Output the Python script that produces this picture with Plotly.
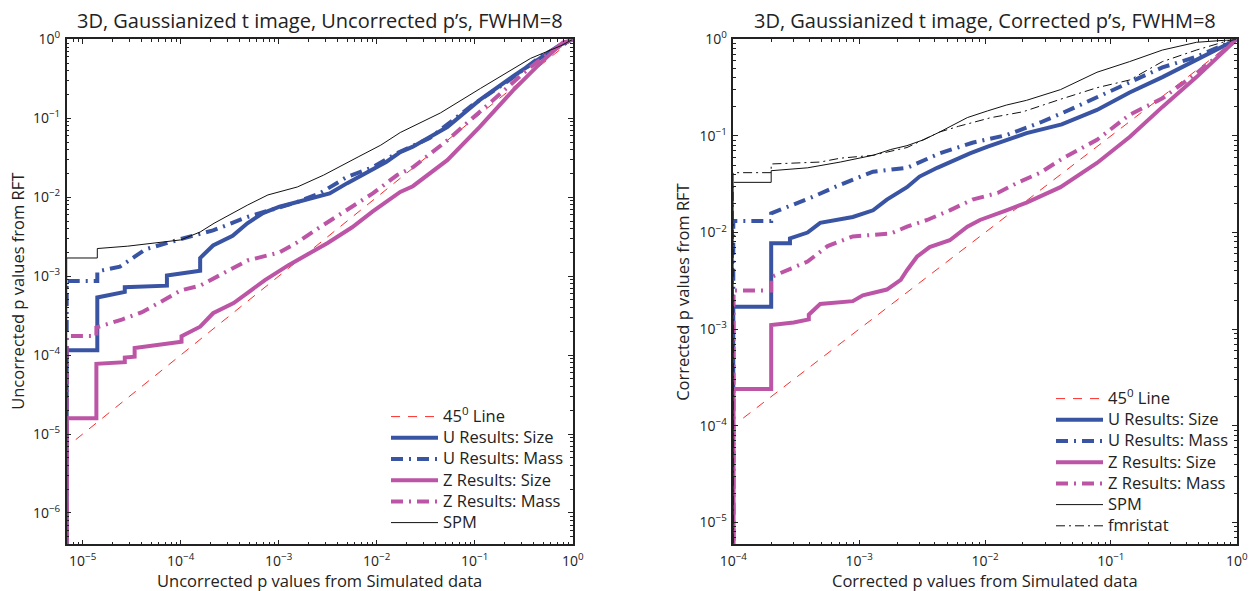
import plotly.graph_objects as go

W, H = 1249, 591

# ---------------- left panel: uncorrected p-values ----------------
unc_ref_x = [8.5e-6, 1.0]
unc_ref_y = [8.5e-6, 1.0]

unc_u_size_x = [6.87e-6, 6.87e-6, 1.41e-5, 1.41e-5, 2.69e-5, 2.69e-5, 7.24e-5, 7.24e-5, 1.58e-4, 1.58e-4,
                2.14e-4, 3.39e-4, 4.79e-4, 6.92e-4, 1.02e-3, 1.95e-3, 3.31e-3, 5.01e-3, 7.94e-3, 1.26e-2,
                1.74e-2, 2.34e-2, 5.25e-2, 0.112, 0.245, 0.468, 0.741, 1.0]
unc_u_size_y = [1e-7, 1.15e-4, 1.15e-4, 5.37e-4, 6.31e-4, 7.24e-4, 7.59e-4, 1.02e-3, 1.17e-3, 1.70e-3,
                2.45e-3, 3.24e-3, 4.68e-3, 6.31e-3, 7.59e-3, 9.33e-3, 1.12e-2, 1.51e-2, 2.04e-2, 2.82e-2,
                3.72e-2, 4.37e-2, 7.76e-2, 0.170, 0.339, 0.589, 0.851, 1.0]

unc_u_mass_x = [6.87e-6, 6.87e-6, 1.41e-5, 1.41e-5, 2.40e-5, 4.37e-5, 1.0e-4, 2.14e-4, 4.79e-4, 9.55e-4,
                1.55e-3, 2.63e-3, 5.01e-3, 9.12e-3, 1.62e-2, 3.47e-2, 9.55e-2, 0.229, 0.468, 1.0]
unc_u_mass_y = [1e-7, 8.71e-4, 8.71e-4, 1.15e-3, 1.32e-3, 2.19e-3, 2.95e-3, 3.80e-3, 5.62e-3, 7.24e-3,
                8.71e-3, 1.12e-2, 1.82e-2, 2.40e-2, 3.63e-2, 5.62e-2, 0.148, 0.309, 0.603, 1.0]

unc_z_size_x = [6.87e-6, 6.87e-6, 1.38e-5, 1.38e-5, 2.69e-5, 2.69e-5, 3.39e-5, 3.39e-5, 1.02e-4, 1.02e-4,
                1.58e-4, 2.14e-4, 3.47e-4, 4.90e-4, 7.24e-4, 1.26e-3, 2.00e-3, 3.16e-3, 5.62e-3, 9.12e-3,
                1.74e-2, 2.34e-2, 5.25e-2, 0.112, 0.245, 0.468, 0.794, 1.0]
unc_z_size_y = [1e-7, 1.58e-5, 1.58e-5, 7.76e-5, 8.13e-5, 9.33e-5, 9.55e-5, 1.23e-4, 1.48e-4, 1.74e-4,
                2.29e-4, 3.39e-4, 4.57e-4, 6.31e-4, 8.91e-4, 1.38e-3, 1.91e-3, 2.63e-3, 4.17e-3, 6.61e-3,
                1.17e-2, 1.38e-2, 2.95e-2, 7.76e-2, 0.224, 0.501, 0.912, 1.0]

unc_z_mass_x = [6.87e-6, 6.87e-6, 1.38e-5, 1.38e-5, 2.51e-5, 3.98e-5, 6.17e-5, 1.0e-4, 1.58e-4, 2.14e-4,
                4.79e-4, 1.02e-3, 1.55e-3, 2.63e-3, 5.01e-3, 9.12e-3, 1.62e-2, 2.34e-2, 5.25e-2, 9.55e-2,
                0.170, 0.372, 0.692, 1.0]
unc_z_mass_y = [1e-7, 1.74e-4, 1.74e-4, 2.24e-4, 2.82e-4, 3.47e-4, 4.68e-4, 6.61e-4, 7.59e-4, 9.33e-4,
                1.58e-3, 2.00e-3, 2.69e-3, 4.17e-3, 6.92e-3, 1.12e-2, 1.91e-2, 2.40e-2, 5.25e-2, 0.102,
                0.186, 0.447, 0.794, 1.0]

unc_spm_x = [6.87e-6, 6.87e-6, 1.41e-5, 1.41e-5, 2.88e-5, 1.0e-4, 1.58e-4, 2.19e-4, 4.79e-4, 7.76e-4,
             1.55e-3, 2.88e-3, 6.46e-3, 1.10e-2, 1.74e-2, 4.47e-2, 0.115, 0.372, 0.759, 1.0]
unc_spm_y = [1e-7, 1.70e-3, 1.70e-3, 2.24e-3, 2.40e-3, 2.88e-3, 3.63e-3, 4.68e-3, 7.94e-3, 1.07e-2,
             1.35e-2, 1.91e-2, 3.24e-2, 4.57e-2, 6.61e-2, 0.117, 0.240, 0.575, 0.832, 1.0]

# ---------------- right panel: corrected p-values ----------------
cor_ref_x = [1.2e-4, 1.0]
cor_ref_y = [1.2e-4, 1.0]

cor_u_size_x = [1e-4, 1e-4, 2e-4, 2e-4, 2.82e-4, 2.82e-4, 3.89e-4, 4.90e-4, 8.91e-4, 1.29e-3,
                1.66e-3, 2.40e-3, 3.02e-3, 4.17e-3, 7.59e-3, 1.05e-2, 2.14e-2, 4.07e-2, 7.76e-2, 0.141,
                0.257, 0.479, 0.871, 1.0]
cor_u_size_y = [1e-6, 1.70e-3, 1.70e-3, 7.76e-3, 7.76e-3, 8.71e-3, 1.0e-2, 1.26e-2, 1.45e-2, 1.70e-2,
                2.19e-2, 2.95e-2, 3.80e-2, 4.68e-2, 6.61e-2, 7.76e-2, 0.107, 0.132, 0.186, 0.282,
                0.407, 0.617, 0.912, 1.0]

cor_u_mass_x = [1e-4, 1e-4, 2e-4, 2e-4, 4.27e-4, 6.92e-4, 1.29e-3, 2.40e-3, 4.37e-3, 7.94e-3,
                1.48e-2, 2.75e-2, 4.17e-2, 7.76e-2, 0.141, 0.257, 0.479, 0.871, 1.0]
cor_u_mass_y = [1e-6, 1.32e-2, 1.32e-2, 1.58e-2, 2.34e-2, 3.09e-2, 4.27e-2, 4.68e-2, 6.61e-2, 8.51e-2,
                0.102, 0.138, 0.174, 0.251, 0.363, 0.513, 0.661, 0.933, 1.0]

cor_z_size_x = [1e-4, 1e-4, 2e-4, 2e-4, 3.02e-4, 3.98e-4, 3.98e-4, 4.90e-4, 8.91e-4, 1.07e-3,
                1.66e-3, 2.14e-3, 2.40e-3, 2.88e-3, 3.63e-3, 5.25e-3, 7.24e-3, 9.12e-3, 1.48e-2, 2.14e-2,
                3.98e-2, 7.76e-2, 0.141, 0.257, 0.479, 0.776, 1.0]
cor_z_size_y = [1e-6, 2.40e-4, 2.40e-4, 1.10e-3, 1.17e-3, 1.26e-3, 1.41e-3, 1.82e-3, 1.95e-3, 2.24e-3,
                2.57e-3, 3.24e-3, 4.07e-3, 5.62e-3, 7.08e-3, 8.32e-3, 1.15e-2, 1.35e-2, 1.70e-2, 2.04e-2,
                2.95e-2, 5.25e-2, 9.77e-2, 0.200, 0.407, 0.724, 1.0]

cor_z_mass_x = [1e-4, 1e-4, 2e-4, 2e-4, 3.89e-4, 5.62e-4, 8.91e-4, 1.78e-3, 2.40e-3, 3.47e-3,
                5.25e-3, 7.94e-3, 1.26e-2, 1.78e-2, 2.75e-2, 4.17e-2, 7.76e-2, 0.141, 0.257, 0.479,
                0.692, 1.0]
cor_z_mass_y = [1e-6, 2.51e-3, 2.51e-3, 3.47e-3, 5.01e-3, 7.24e-3, 9.12e-3, 9.77e-3, 1.15e-2, 1.35e-2,
                1.70e-2, 2.19e-2, 2.57e-2, 3.24e-2, 4.17e-2, 5.89e-2, 9.12e-2, 0.166, 0.245, 0.447,
                0.661, 1.0]

cor_spm_x = [1e-4, 1e-4, 2e-4, 2e-4, 3.89e-4, 7.08e-4, 1.29e-3, 1.78e-3, 2.40e-3, 3.24e-3,
             4.37e-3, 7.24e-3, 1.05e-2, 1.48e-2, 2.14e-2, 3.98e-2, 7.76e-2, 0.141, 0.257, 0.479, 1.0]
cor_spm_y = [1e-6, 3.31e-2, 3.31e-2, 4.37e-2, 4.68e-2, 5.37e-2, 6.31e-2, 7.24e-2, 7.94e-2, 9.12e-2,
             0.110, 0.155, 0.182, 0.209, 0.234, 0.302, 0.457, 0.589, 0.776, 0.933, 1.0]

cor_fmri_x = [1e-4, 1e-4, 2e-4, 2e-4, 4.90e-4, 7.08e-4, 1.29e-3, 2.40e-3, 4.37e-3, 6.17e-3,
              1.12e-2, 2.0e-2, 3.98e-2, 7.76e-2, 0.141, 0.257, 0.479, 0.871, 1.0]
cor_fmri_y = [1e-6, 4.17e-2, 4.17e-2, 5.13e-2, 5.37e-2, 5.89e-2, 6.31e-2, 7.59e-2, 0.110, 0.126,
              0.155, 0.178, 0.240, 0.316, 0.380, 0.589, 0.776, 0.977, 1.0]

# ---------------- labels ----------------
titles = ["3D, Gaussianized t image, Uncorrected p\u2019s, FWHM=8",
          "3D, Gaussianized t image, Corrected p\u2019s, FWHM=8"]
x_titles = ["Uncorrected p values from Simulated data", "Corrected p values from Simulated data"]
y_titles = ["Uncorrected p values from RFT", "Corrected p values from RFT"]
series_names = ["45<sup>0</sup> Line", "U Results: Size", "U Results: Mass",
                "Z Results: Size", "Z Results: Mass", "SPM", "fmristat"]

# ---------------- styles ----------------
BLUE = "#3A54A4"
MAGENTA = "#BD55A6"
RED = "#FF2A2A"
DASHDOT_THICK = "12px,6px,2px,6px"
DASHDOT_THIN = "9px,4px,2px,4px"
DASHED = "9px,8px"

FONT = "Open Sans"
INK = "#222222"

fig = go.Figure()


def legend_label(name):
    # larger glyphs than the legend's base size, keeping rows compact
    return '<span style="font-size:16.5px">%s</span>' % name


def add_line(x, y, name, color, width, dash, xa, ya, legend):
    fig.add_trace(go.Scatter(
        x=x, y=y, mode="lines", name=legend_label(name),
        line=dict(color=color, width=width, dash=dash),
        xaxis=xa, yaxis=ya, legend=legend, hoverinfo="skip"))


# left panel
add_line(unc_ref_x, unc_ref_y, series_names[0], RED, 1, DASHED, "x", "y", "legend")
add_line(unc_u_size_x, unc_u_size_y, series_names[1], BLUE, 4, "solid", "x", "y", "legend")
add_line(unc_u_mass_x, unc_u_mass_y, series_names[2], BLUE, 4, DASHDOT_THICK, "x", "y", "legend")
add_line(unc_z_size_x, unc_z_size_y, series_names[3], MAGENTA, 4, "solid", "x", "y", "legend")
add_line(unc_z_mass_x, unc_z_mass_y, series_names[4], MAGENTA, 4, DASHDOT_THICK, "x", "y", "legend")
add_line(unc_spm_x, unc_spm_y, series_names[5], "#111111", 1, "solid", "x", "y", "legend")

# right panel
add_line(cor_ref_x, cor_ref_y, series_names[0], RED, 1, DASHED, "x2", "y2", "legend2")
add_line(cor_u_size_x, cor_u_size_y, series_names[1], BLUE, 4, "solid", "x2", "y2", "legend2")
add_line(cor_u_mass_x, cor_u_mass_y, series_names[2], BLUE, 4, DASHDOT_THICK, "x2", "y2", "legend2")
add_line(cor_z_size_x, cor_z_size_y, series_names[3], MAGENTA, 4, "solid", "x2", "y2", "legend2")
add_line(cor_z_mass_x, cor_z_mass_y, series_names[4], MAGENTA, 4, DASHDOT_THICK, "x2", "y2", "legend2")
add_line(cor_spm_x, cor_spm_y, series_names[5], "#111111", 1, "solid", "x2", "y2", "legend2")
add_line(cor_fmri_x, cor_fmri_y, series_names[6], "#111111", 1, DASHDOT_THIN, "x2", "y2", "legend2")


def decades(lo, hi):
    return [10.0 ** k for k in range(lo, hi + 1)]


def minors(lo, hi):
    return [m * 10.0 ** k for k in range(lo, hi) for m in range(2, 10)]


def labels(lo, hi):
    return ["10<sup>\u2212%d</sup>" % -k if k < 0 else "10<sup>0</sup>" for k in range(lo, hi + 1)]


def log_axis(domain, rng, lo, hi, anchor, standoff):
    return dict(
        type="log", domain=domain, range=rng, anchor=anchor, automargin=False,
        tickmode="array", tickvals=decades(lo, hi), ticktext=labels(lo, hi),
        ticks="inside", ticklen=5, tickwidth=1, tickcolor=INK,
        showline=True, linecolor=INK, linewidth=1.5, mirror="ticks",
        showgrid=False, zeroline=False, ticklabelstandoff=standoff,
        tickfont=dict(family=FONT, size=14, color=INK),
        minor=dict(tickmode="array", tickvals=minors(lo - 1, hi), ticks="inside",
                   ticklen=3, tickcolor=INK, showgrid=False),
    )


L0, L1 = 66.7 / W, 572.7 / W
R0, R1 = 733.3 / W, 1236.7 / W
B, T = 1 - 544.3 / H, 1 - 39.4 / H

legend_style = dict(xanchor="left", yanchor="top", bgcolor="rgba(0,0,0,0)", borderwidth=0,
                    tracegroupgap=0, itemwidth=47, font=dict(family=FONT, size=14, color=INK))

fig.update_layout(
    template="none",
    width=W, height=H, margin=dict(l=0, r=0, t=0, b=0, pad=0, autoexpand=False),
    paper_bgcolor="white", plot_bgcolor="white",
    font=dict(family=FONT, color=INK),
    xaxis=log_axis([L0, L1], [-5.163, 0], -5, 0, "y", 3),
    yaxis=log_axis([B, T], [-6.397, 0], -6, 0, "x", 2),
    xaxis2=log_axis([R0, R1], [-4, 0], -4, 0, "y2", 3),
    yaxis2=log_axis([B, T], [-5.228, 0], -5, 0, "x2", 2),
    legend=dict(x=386 / W, y=1 - 401 / H, **legend_style),
    legend2=dict(x=1051 / W, y=1 - 383 / H, **legend_style),
    showlegend=True,
)

ann = []
for cx, t in zip([(L0 + L1) / 2, (R0 + R1) / 2], titles):
    ann.append(dict(text=t, x=cx, y=1 - 21 / H, xref="paper", yref="paper",
                    showarrow=False, xanchor="center", yanchor="middle",
                    font=dict(family=FONT, size=20, color=INK)))
for cx, t in zip([(L0 + L1) / 2, (R0 + R1) / 2], x_titles):
    ann.append(dict(text=t, x=cx, y=1 - 580 / H, xref="paper", yref="paper",
                    showarrow=False, xanchor="center", yanchor="middle",
                    font=dict(family=FONT, size=16.5, color=INK)))
for px, t in zip([18, 683], y_titles):
    ann.append(dict(text=t, x=px / W, y=(B + T) / 2, xref="paper", yref="paper",
                    showarrow=False, xanchor="center", yanchor="middle", textangle=-90,
                    font=dict(family=FONT, size=16.5, color=INK)))
fig.update_layout(annotations=ann)

fig.write_html("out.html")
